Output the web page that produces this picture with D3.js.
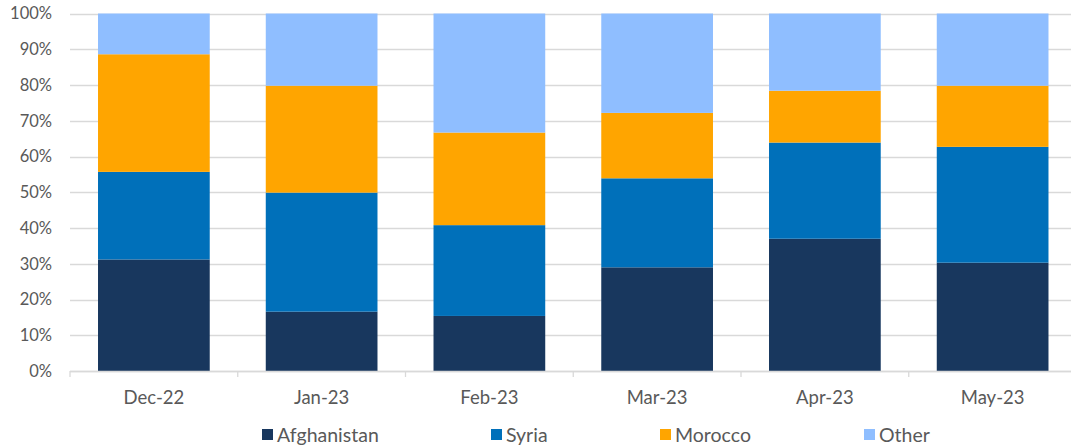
<!DOCTYPE html>
<html>
<head>
<meta charset="utf-8">
<script src="https://cdn.jsdelivr.net/npm/d3@7"></script>
<style>
  body { margin: 0; background: #fff; }
  svg text { font-family: Lato, "Open Sans", sans-serif; fill: #595959; }
</style>
</head>
<body>
<svg id="chart" width="1071" height="448"></svg>
<script>
"use strict";

// month labels
const months = ["Dec-22", "Jan-23", "Feb-23", "Mar-23", "Apr-23", "May-23"];
// share of each nationality, in percent
const afghanistan = [31.2, 16.6, 15.4, 29.0, 37.0, 30.3];
const syria       = [24.5, 33.3, 25.4, 24.9, 26.9, 32.4];
const morocco     = [32.9, 29.9, 25.9, 18.3, 14.5, 17.1];
const other       = [11.4, 20.2, 33.3, 27.8, 21.6, 20.2];
const seriesNames = ["Afghanistan", "Syria", "Morocco", "Other"];
const yTicks = [0, 10, 20, 30, 40, 50, 60, 70, 80, 90, 100];

const colors = {
  Afghanistan: "#18375e",
  Syria: "#0070ba",
  Morocco: "#ffa500",
  Other: "#8fbeff"
};

const rows = months.map((m, i) => ({
  month: m,
  Afghanistan: afghanistan[i],
  Syria: syria[i],
  Morocco: morocco[i],
  Other: other[i]
}));

const svg = d3.select("#chart");
const plotLeft = 70, plotRight = 1076.5, plotTop = 13.5, plotBottom = 371;

const x = d3.scaleBand()
  .domain(months)
  .range([plotLeft, plotRight])
  .paddingInner(0.334)
  .paddingOuter(0.167);

const y = d3.scaleLinear().domain([0, 100]).range([plotBottom, plotTop]);

// gridlines
svg.append("g")
  .selectAll("line")
  .data(yTicks)
  .enter()
  .append("line")
  .attr("x1", plotLeft)
  .attr("x2", plotRight)
  .attr("y1", d => Math.round(y(d)) + 0.5)
  .attr("y2", d => Math.round(y(d)) + 0.5)
  .attr("stroke", "#d9d9d9")
  .attr("stroke-width", 1.3);

// y labels
svg.append("g")
  .selectAll("text")
  .data(yTicks)
  .enter()
  .append("text")
  .attr("x", 52)
  .attr("y", d => y(d))
  .attr("dy", "0.35em")
  .attr("text-anchor", "end")
  .attr("font-size", "16.5px")
  .text(d => d + "%");

// stacked bars
const stack = d3.stack().keys(seriesNames);
const layers = stack(rows);

svg.append("g")
  .selectAll("g")
  .data(layers)
  .enter()
  .append("g")
  .attr("fill", d => colors[d.key])
  .selectAll("rect")
  .data(d => d)
  .enter()
  .append("rect")
  .attr("x", d => x(d.data.month))
  .attr("width", x.bandwidth())
  .attr("y", d => y(Math.min(d[1], 100)))
  .attr("height", d => y(d[0]) - y(Math.min(d[1], 100)));

// x axis
const xAxis = svg.append("g");
xAxis.append("line")
  .attr("x1", plotLeft).attr("x2", plotRight)
  .attr("y1", plotBottom + 0.5).attr("y2", plotBottom + 0.5)
  .attr("stroke", "#d9d9d9")
  .attr("stroke-width", 1.3);

const step = x.step();
xAxis.selectAll("line.tick")
  .data(d3.range(months.length + 1))
  .enter()
  .append("line")
  .attr("class", "tick")
  .attr("x1", i => plotLeft + i * step)
  .attr("x2", i => plotLeft + i * step)
  .attr("y1", plotBottom)
  .attr("y2", plotBottom + 6)
  .attr("stroke", "#d9d9d9")
  .attr("stroke-width", 1.3);

xAxis.selectAll("text")
  .data(months)
  .enter()
  .append("text")
  .attr("x", d => x(d) + x.bandwidth() / 2)
  .attr("y", 404)
  .attr("text-anchor", "middle")
  .attr("font-size", "18.5px")
  .text(d => d);

// legend
const legendX = [262, 491, 660, 864];
const legend = svg.append("g")
  .selectAll("g")
  .data(seriesNames)
  .enter()
  .append("g")
  .attr("transform", (d, i) => `translate(${legendX[i]},429)`);

legend.append("rect")
  .attr("width", 11)
  .attr("height", 11)
  .attr("fill", d => colors[d]);

legend.append("text")
  .attr("x", 15)
  .attr("y", 12.5)
  .attr("font-size", "19.5px")
  .text(d => d);
</script>
</body>
</html>
